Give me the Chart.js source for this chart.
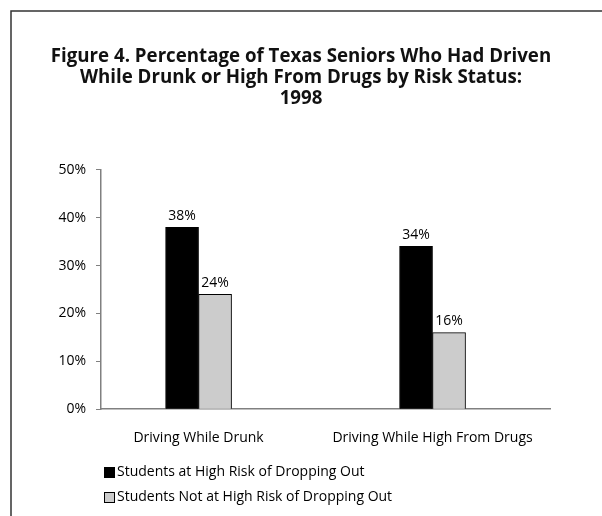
<!DOCTYPE html>
<html>
<head>
<meta charset="utf-8">
<script src="https://cdn.jsdelivr.net/npm/chart.js@4/dist/chart.umd.min.js"></script>
<style>
  html, body { margin: 0; padding: 0; background: #fff; }
  #wrap { width: 602px; height: 516px; position: relative; }
</style>
</head>
<body>
<div id="wrap"><canvas id="riskChart"></canvas></div>
<script>
// Categories and their positions along the x axis
const categories = ['Driving While Drunk', 'Driving While High From Drugs'];
const categoryPos = [1, 2];

// Percentages per risk group
const highRisk = [38, 34];
const notHighRisk = [24, 16];

const seriesLabels = [
    'Students at High Risk of Dropping Out',
    'Students Not at High Risk of Dropping Out'
];

const yTicks = [0, 10, 20, 30, 40, 50];

const FONT = '"Open Sans", Lato, sans-serif';

// Top and left frame lines round the figure
const framePlugin = {
    id: 'frame',
    beforeDraw(chart) {
        const ctx = chart.ctx;
        ctx.save();
        ctx.strokeStyle = '#333';
        ctx.lineWidth = 1.5;
        ctx.beginPath();
        ctx.moveTo(11, chart.height);
        ctx.lineTo(11, 11);
        ctx.lineTo(chart.width, 11);
        ctx.stroke();
        ctx.restore();
    }
};

// Value labels above each bar
const valueLabels = {
    id: 'valueLabels',
    afterDatasetsDraw(chart) {
        const ctx = chart.ctx;
        ctx.save();
        ctx.font = '14px ' + FONT;
        ctx.fillStyle = '#000';
        ctx.textAlign = 'center';
        ctx.textBaseline = 'bottom';
        chart.data.datasets.forEach((ds, i) => {
            chart.getDatasetMeta(i).data.forEach((bar, j) => {
                ctx.fillText(ds.data[j].y + '%', bar.x, bar.y - 4.5);
            });
        });
        ctx.restore();
    }
};

// Stacked legend in the lower left
const sideLegend = {
    id: 'sideLegend',
    afterDraw(chart) {
        const ctx = chart.ctx;
        ctx.save();
        ctx.font = '14px ' + FONT;
        ctx.textBaseline = 'middle';
        chart.data.datasets.forEach((ds, i) => {
            const y = 472.5 + i * 25;
            ctx.fillStyle = ds.backgroundColor;
            ctx.fillRect(104, y - 5.5, 11, 11);
            ctx.strokeStyle = '#000';
            ctx.lineWidth = 1;
            ctx.strokeRect(104.5, y - 5, 10, 10);
            ctx.fillStyle = '#000';
            ctx.fillText(ds.label, 117, y);
        });
        ctx.restore();
    }
};

const toPoints = vals => vals.map((v, i) => ({ x: categoryPos[i], y: v }));

new Chart(document.getElementById('riskChart'), {
    type: 'bar',
    data: {
        datasets: [{
            label: seriesLabels[0],
            data: toPoints(highRisk),
            backgroundColor: '#000000',
            borderColor: '#000000',
            borderWidth: 1,
            barThickness: 33
        }, {
            label: seriesLabels[1],
            data: toPoints(notHighRisk),
            backgroundColor: '#cccccc',
            borderColor: '#000000',
            borderWidth: 1,
            barThickness: 33
        }]
    },
    options: {
        responsive: true,
        maintainAspectRatio: false,
        animation: false,
        layout: {
            padding: { top: 0, right: 0, bottom: 58, left: 0 }
        },
        plugins: {
            legend: { display: false },
            tooltip: { enabled: false },
            title: {
                display: true,
                text: [
                    'Figure 4. Percentage of Texas Seniors Who Had Driven',
                    'While Drunk or High From Drugs by Risk Status:',
                    '1998'
                ],
                color: '#111',
                font: { family: FONT, size: 18.7, weight: 'bold', lineHeight: 1.12 },
                padding: { top: 46, bottom: 61 }
            }
        },
        scales: {
            x: {
                type: 'linear',
                min: 0.583,
                max: 2.502,
                offset: false,
                grid: { display: false },
                border: { display: true, color: '#808080', width: 1.5 },
                afterBuildTicks: scale => {
                    scale.ticks = categoryPos.map(v => ({ value: v }));
                },
                ticks: {
                    padding: 12,
                    color: '#000',
                    maxRotation: 0,
                    font: { family: FONT, size: 14 },
                    callback: (v) => categories[categoryPos.indexOf(v)]
                }
            },
            y: {
                min: 0,
                max: 50,
                afterFit: scale => { scale.width = 101; },
                afterBuildTicks: scale => {
                    scale.ticks = yTicks.map(v => ({ value: v }));
                },
                grid: {
                    display: true,
                    drawOnChartArea: false,
                    drawTicks: true,
                    tickLength: 5,
                    color: '#808080'
                },
                border: { display: true, color: '#808080', width: 1.5 },
                ticks: {
                    padding: 10,
                    color: '#000',
                    font: { family: FONT, size: 14 },
                    callback: v => v + '%'
                }
            },
            // empty right margin so the title stays centred on the page
            yRight: {
                position: 'right',
                min: 0,
                max: 50,
                grid: { display: false },
                border: { display: false },
                ticks: { display: false },
                afterFit: scale => { scale.width = 52; }
            }
        }
    },
    plugins: [framePlugin, valueLabels, sideLegend]
});
</script>
</body>
</html>
